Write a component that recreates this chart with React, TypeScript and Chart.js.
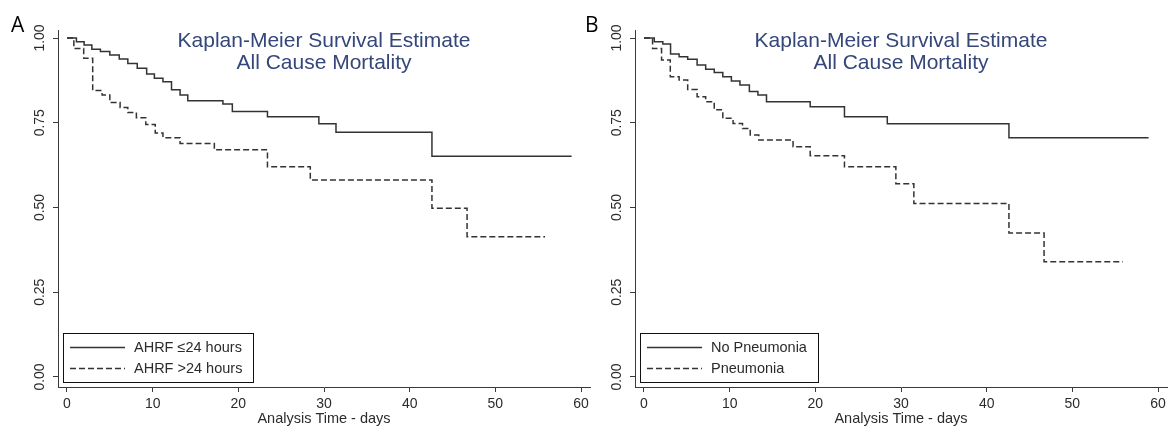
import React, { useEffect, useRef } from "react";
import { Chart, registerables } from "chart.js";

Chart.register(...registerables);

// ---- axis ticks ----
const X_TICKS = [0, 10, 20, 30, 40, 50, 60];
const Y_TICKS = [0, 0.25, 0.5, 0.75, 1];
const X_MIN = -1.05;
const X_MAX = 61.05;
const Y_MIN = -0.0295;
const Y_MAX = 1.0236;

const TITLE_LINES = ["Kaplan-Meier Survival Estimate", "All Cause Mortality"];
const X_TITLE = "Analysis Time - days";

// ---- Panel A data ----
const A_LABELS = ["AHRF \u226424 hours", "AHRF >24 hours"];
const A_EARLY_T = [0, 1.1, 2.0, 2.9, 3.9, 5.0, 6.1, 7.1, 8.2, 9.3, 10.2, 11.2, 12.2, 13.2, 14.1, 18.2, 19.3, 23.4, 29.4, 31.4, 42.6, 58.9];
const A_EARLY_S = [1, 0.989, 0.979, 0.967, 0.96, 0.95, 0.938, 0.925, 0.911, 0.894, 0.881, 0.871, 0.847, 0.832, 0.815, 0.805, 0.783, 0.768, 0.747, 0.722, 0.651, 0.651];
const A_LATE_T = [0, 0.8, 1.95, 3.0, 4.1, 5.0, 6.2, 7.1, 8.1, 9.2, 10.3, 11.2, 13.2, 17.2, 23.4, 28.4, 42.6, 46.7, 55.8];
const A_LATE_S = [1, 0.969, 0.94, 0.845, 0.832, 0.81, 0.795, 0.78, 0.765, 0.745, 0.72, 0.706, 0.689, 0.67, 0.62, 0.581, 0.498, 0.414, 0.414];

// ---- Panel B data ----
const B_LABELS = ["No Pneumonia", "Pneumonia"];
const B_NOPNEU_T = [0, 1.2, 2.2, 3.1, 4.1, 5.1, 6.2, 7.2, 8.2, 9.2, 10.2, 11.2, 12.3, 13.3, 14.3, 19.4, 23.4, 28.4, 42.6, 58.9];
const B_NOPNEU_S = [1, 0.989, 0.982, 0.953, 0.945, 0.937, 0.92, 0.908, 0.898, 0.886, 0.873, 0.861, 0.842, 0.832, 0.812, 0.797, 0.768, 0.747, 0.706, 0.706];
const B_PNEU_T = [0, 1.0, 2.05, 3.07, 4.1, 5.1, 6.2, 7.2, 8.2, 9.2, 10.4, 11.5, 12.4, 13.4, 17.4, 19.4, 23.4, 29.4, 31.5, 42.6, 46.7, 55.9];
const B_PNEU_S = [1, 0.969, 0.935, 0.886, 0.876, 0.848, 0.827, 0.812, 0.788, 0.763, 0.748, 0.733, 0.714, 0.699, 0.679, 0.653, 0.62, 0.57, 0.512, 0.425, 0.34, 0.34];

const FONT = '"Liberation Sans", Arial, Helvetica, sans-serif';
const LINE_COLOR = "#333333";
const AXIS_COLOR = "#3a3a3a";
const TEXT_COLOR = "#2b2b2b";
const TITLE_COLOR = "#34467a";

type PanelDef = {
  letter: string;
  letterX: number;
  left: number;
  labels: string[];
  t1: number[];
  s1: number[];
  t2: number[];
  s2: number[];
};

const PANELS: PanelDef[] = [
  { letter: "A", letterX: 11, left: 0, labels: A_LABELS, t1: A_EARLY_T, s1: A_EARLY_S, t2: A_LATE_T, s2: A_LATE_S },
  { letter: "B", letterX: 8, left: 577, labels: B_LABELS, t1: B_NOPNEU_T, s1: B_NOPNEU_S, t2: B_PNEU_T, s2: B_PNEU_S },
];

function series(t: number[], s: number[]) {
  return t.map((x, i) => ({ x, y: s[i] }));
}

function PanelChart({ panel }: { panel: PanelDef }) {
  const ref = useRef<HTMLCanvasElement>(null);

  useEffect(() => {
    if (!ref.current) return;
    const overlay = {
      id: "kmOverlay",
      afterDraw(chart: any) {
        const { ctx, chartArea } = chart;
        ctx.save();
        // panel letter
        ctx.fillStyle = "#000";
        ctx.font = `21px "Open Sans", "Noto Sans", sans-serif`;
        ctx.textAlign = "left";
        ctx.textBaseline = "alphabetic";
        ctx.fillText(panel.letter, panel.letterX, 32);
        // title
        ctx.fillStyle = TITLE_COLOR;
        ctx.font = `21px ${FONT}`;
        ctx.textAlign = "center";
        ctx.textBaseline = "middle";
        const cx = (chartArea.left + chartArea.right) / 2;
        TITLE_LINES.forEach((line, i) => ctx.fillText(line, cx, 41 + i * 22));
        // legend box
        ctx.font = `14.5px ${FONT}`;
        const textW = Math.max(...panel.labels.map((l) => ctx.measureText(l).width));
        const bw = 71 + textW + 11;
        const bh = 49;
        const bx = chartArea.left + 5;
        const by = chartArea.bottom - 5 - bh;
        ctx.fillStyle = "#fff";
        ctx.fillRect(bx, by, bw, bh);
        ctx.strokeStyle = "#111";
        ctx.lineWidth = 1;
        ctx.strokeRect(Math.round(bx) + 0.5, Math.round(by) + 0.5, Math.round(bw), bh);
        panel.labels.forEach((lab, i) => {
          const ry = by + 14.5 + i * 21;
          ctx.strokeStyle = LINE_COLOR;
          ctx.lineWidth = 1.3;
          ctx.setLineDash(i === 1 ? [6, 3] : []);
          ctx.beginPath();
          ctx.moveTo(bx + 7, ry);
          ctx.lineTo(bx + 62, ry);
          ctx.stroke();
          ctx.setLineDash([]);
          ctx.fillStyle = TEXT_COLOR;
          ctx.textAlign = "left";
          ctx.textBaseline = "middle";
          ctx.fillText(lab, bx + 71, ry);
        });
        ctx.restore();
      },
    };

    const chart = new Chart(ref.current, {
      type: "line",
      data: {
        datasets: [
          {
            label: panel.labels[0],
            data: series(panel.t1, panel.s1),
            borderColor: LINE_COLOR,
            borderWidth: 1.5,
            stepped: "before",
            pointRadius: 0,
            fill: false,
          },
          {
            label: panel.labels[1],
            data: series(panel.t2, panel.s2),
            borderColor: LINE_COLOR,
            borderWidth: 1.5,
            borderDash: [6, 3],
            stepped: "before",
            pointRadius: 0,
            fill: false,
          },
        ],
      },
      options: {
        animation: false,
        responsive: true,
        maintainAspectRatio: false,
        events: [],
        layout: { padding: { top: 30, right: 5, left: 0, bottom: 0 } },
        plugins: {
          legend: { display: false },
          title: { display: false },
          tooltip: { enabled: false },
        },
        scales: {
          x: {
            type: "linear",
            min: X_MIN,
            max: X_MAX,
            afterBuildTicks: (s: any) => {
              s.ticks = X_TICKS.map((value) => ({ value }));
            },
            afterFit: (s: any) => {
              s.height = 42;
            },
            grid: { drawOnChartArea: false, drawTicks: true, tickLength: 5, color: AXIS_COLOR },
            border: { display: true, color: AXIS_COLOR, width: 1 },
            ticks: {
              autoSkip: false,
              maxRotation: 0,
              minRotation: 0,
              padding: 4,
              color: TEXT_COLOR,
              font: { family: FONT, size: 14 },
              callback: (v: any) => String(v),
            },
            title: {
              display: true,
              text: X_TITLE,
              color: TEXT_COLOR,
              font: { family: FONT, size: 14.5, lineHeight: 1.2 },
              padding: { top: 0, bottom: 1 },
            },
          },
          y: {
            type: "linear",
            min: Y_MIN,
            max: Y_MAX,
            afterBuildTicks: (s: any) => {
              s.ticks = Y_TICKS.map((value) => ({ value }));
            },
            afterFit: (s: any) => {
              s.width = 58;
            },
            grid: { drawOnChartArea: false, drawTicks: true, tickLength: 5, color: AXIS_COLOR },
            border: { display: true, color: AXIS_COLOR, width: 1 },
            ticks: {
              autoSkip: false,
              minRotation: 90,
              maxRotation: 90,
              crossAlign: "center",
              padding: -1,
              color: TEXT_COLOR,
              font: { family: FONT, size: 14 },
              callback: (v: any) => Number(v).toFixed(2),
            },
          },
        },
      },
      plugins: [overlay],
    } as any);

    return () => chart.destroy();
  }, [panel]);

  return (
    <div style={{ position: "absolute", left: panel.left, top: 0, width: 595, height: 429 }}>
      <canvas ref={ref} />
    </div>
  );
}

export default function App() {
  return (
    <div style={{ position: "fixed", left: 0, top: 0, width: 1172, height: 429, background: "#fff", overflow: "hidden" }}>
      {PANELS.map((p) => (
        <PanelChart key={p.letter} panel={p} />
      ))}
    </div>
  );
}
